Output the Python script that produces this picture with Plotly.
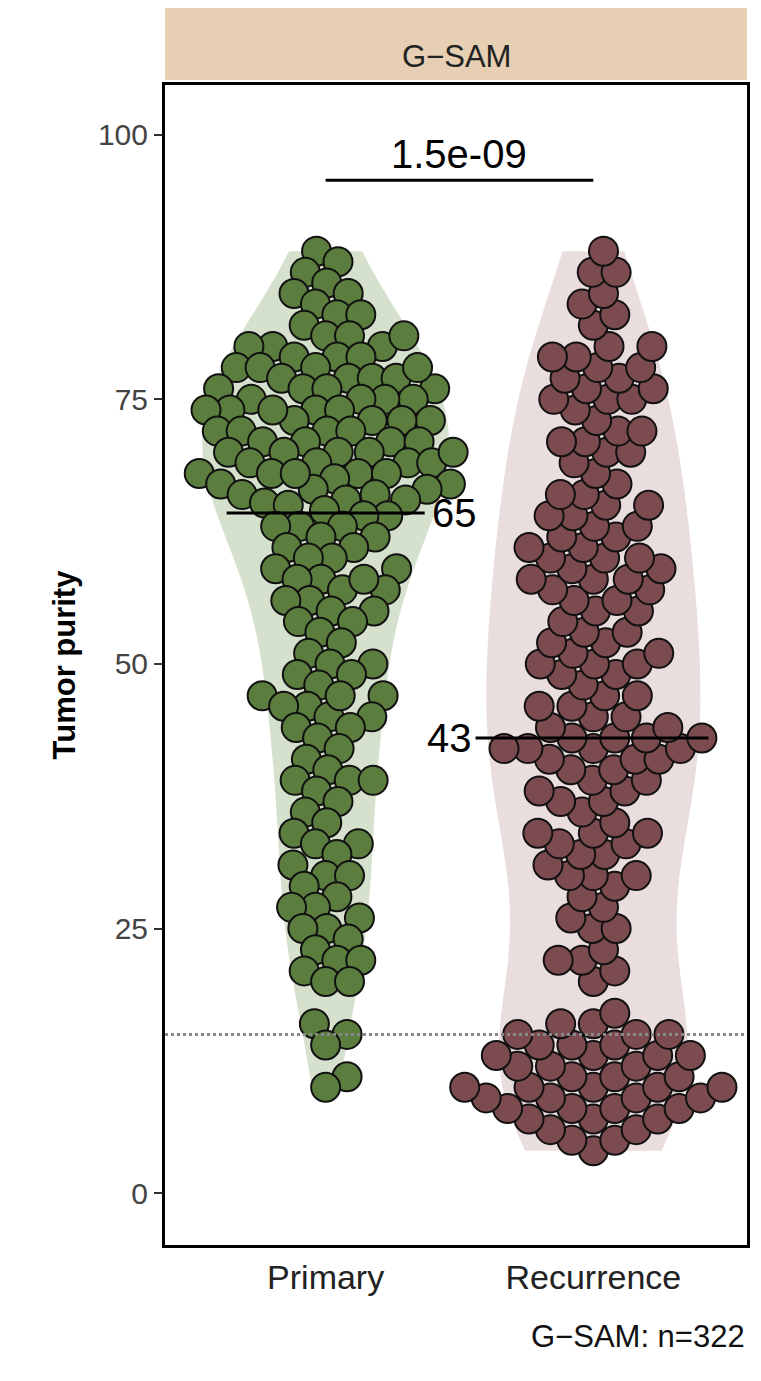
import numpy as np
import plotly.graph_objects as go

categories = ["Primary", "Recurrence"]
primary = [89,88,87,86,85,85,84,83,83,82,81,81,80,80,80,79,79,79,78,78,78,77,77,77,77,76,76,76,76,75,75,75,75,74,74,74,74,73,73,73,73,72,72,72,72,71,71,71,71,70,70,70,70,69,69,69,69,68,68,68,68,67.5,67,67,66.5,66.5,66,66,65.5,65.5,65.2,65,
           64.5,64,64,63,63,63,62,62,61,61,60,60,59,59,58,58,57,57,56,56,55,55,54,54,53,52,51,50,50,49,49,48,47,47,46,46,45,45,44,44,43,42,41,40,39,39,38,37,36,35,34,33,33,32,31,30,30,29,28,27,27,26,25,25,24,23,22,22,21,20,20,16,15,14,11,10,58,47,39,70,74,78,81,68]
recurrence = [4,5,5,6,6,7,7,7,8,8,8,8,9,9,9,9,10,10,10,10,10,11,11,11,12,12,12,13,13,13,13,14,14,14,15,15,15,16,16,17,
              20,21,22,22,23,25,25,26,27,28,29,30,30,30,31,32,32,33,33,34,34,34,35,36,37,37,38,38,39,39,40,40,41,41,41,42,42,42,42,43,
              43,43,43,44,44,45,45,46,46,47,47,48,49,49,50,50,50,51,51,52,52,53,53,54,55,55,56,56,57,57,58,58,58,59,59,60,60,60,61,61,62,62,63,63,64,64,65,65,66,66,67,68,69,70,70,71,71,72,72,73,74,75,75,75,76,76,77,77,78,78,79,79,80,80,82,83,84,85,87,87,89]
median_labels = ["65", "43"]
pvalue = "1.5e-09"
threshold = 15

PX_X, PX_Y, D = 269.0, 10.58, 24.0

def swarm(vals):
    order = np.argsort(vals)
    placed = []
    offs = np.zeros(len(vals))
    for i in order:
        y = vals[i] * PX_Y
        cands = [0.0]
        for (px, py) in placed:
            dy = y - py
            if abs(dy) < D:
                dx = np.sqrt(D * D - dy * dy)
                cands += [px + dx, px - dx]
        cands.sort(key=abs)
        for c in cands:
            if all((c - px) ** 2 + (y - py) ** 2 >= D * D - 1e-6 for px, py in placed):
                placed.append((c, y)); offs[i] = c; break
    return offs / PX_X

fig = go.Figure()
fills = ["#d5e1cd", "#eadddd"]
dots = ["#5b7e3f", "#7b4b50"]
vwidth = [0.92, 0.8]
for k, vals in enumerate([primary, recurrence]):
    v = np.array(vals, float)
    fig.add_trace(go.Violin(x=[k + 1] * len(v), y=v, fillcolor=fills[k], line=dict(width=0),
                            points=False, spanmode="hard", width=vwidth[k], showlegend=False,
                            hoverinfo="skip", box_visible=False, meanline_visible=False))
    fig.add_trace(go.Scatter(x=k + 1 + swarm(v), y=v, mode="markers", showlegend=False,
                             marker=dict(size=29, color=dots[k], line=dict(color="#111", width=2))))

fig.add_hline(y=threshold, line=dict(color="#888", width=3, dash="dot"))
meds = [np.median(primary), np.median(recurrence)]
fig.add_shape(type="line", x0=0.63, x1=1.37, y0=meds[0], y1=meds[0], line=dict(color="black", width=3))
fig.add_shape(type="line", x0=1.56, x1=2.43, y0=meds[1], y1=meds[1], line=dict(color="black", width=3))
fig.add_annotation(x=1.39, y=meds[0], text=median_labels[0], showarrow=False, xanchor="left", font=dict(size=40, color="black"))
fig.add_annotation(x=1.555, y=meds[1], text=median_labels[1], showarrow=False, xanchor="right", font=dict(size=40, color="black"))
fig.add_shape(type="line", x0=1, x1=2, y0=95.7, y1=95.7, line=dict(color="black", width=3))
fig.add_annotation(x=1.5, y=95.7, text=pvalue, showarrow=False, yanchor="bottom", yshift=2, font=dict(size=40, color="black"))

fig.add_shape(type="rect", xref="paper", yref="paper", x0=0, x1=1, y0=1 + 5 / 1160, y1=1 + 85 / 1160,
              fillcolor="#e6cfb3", line=dict(width=0))
fig.add_annotation(xref="paper", yref="paper", x=0.5, y=1 + 48 / 1160, text="G−SAM", showarrow=False,
                   font=dict(size=31, color="#222"))
fig.add_annotation(xref="paper", yref="paper", x=1.0, y=-(72 / 1160), text="G−SAM: n=322", showarrow=False,
                   xanchor="right", yanchor="top", font=dict(size=31, color="#111"))

fig.update_layout(width=745, height=1365, margin=dict(l=157, r=3, t=77, b=128),
                  plot_bgcolor="white", paper_bgcolor="white",
                  font=dict(family="Liberation Sans, Arial", color="#333"))
fig.update_xaxes(range=[0.4, 2.574], tickvals=[1, 2], ticktext=categories, showline=True, mirror=True,
                 linewidth=3, linecolor="black", showgrid=False, zeroline=False, ticks="",
                 tickfont=dict(size=34, color="#222"))
fig.update_yaxes(range=[-4.9, 104.7], tickvals=[0, 25, 50, 75, 100], showline=True, mirror=True,
                 linewidth=3, linecolor="black", showgrid=False, zeroline=False, ticks="outside",
                 ticklen=8, tickwidth=2, tickcolor="#333", tickfont=dict(size=30, color="#444"),
                 title=dict(text="<b>Tumor purity</b>", font=dict(size=31, color="black"), standoff=14))
fig.write_html("out.html")
